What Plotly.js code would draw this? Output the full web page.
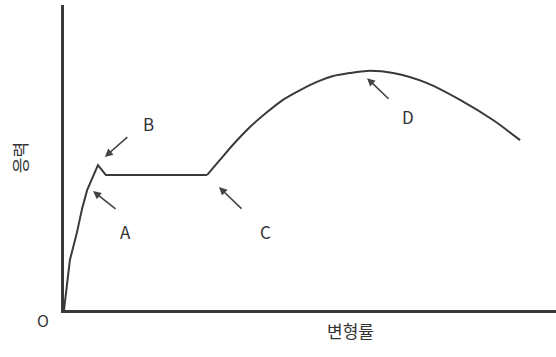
<!DOCTYPE html>
<html><head><meta charset="utf-8">
<script src="https://cdn.plot.ly/plotly-3.0.1.min.js"></script>
<style>html,body{margin:0;padding:0;background:#fff}</style>
</head><body><div id="chart" style="width:556px;height:357px"></div>
<script>
// stress-strain curve (arbitrary units)
// elastic region + yield point + yield plateau (O -> A -> B -> C)
const strainElastic = [0, 1.2, 2.6, 3.7, 4.7, 5.7, 6.9, 8.5, 29.1];
const stressElastic = [0, 16.4, 25.2, 33.4, 39.3, 43.3, 47.5, 44.3, 44.3];
// strain hardening + necking (C -> D -> fracture)
const strainHardening = [29.1, 31.7, 34.3, 37.8, 41.3, 44.5, 48.0, 51.4, 54.7, 58.1, 61.6, 66.9, 73.8, 80.5, 87.2, 92.7];
const stressHardening = [44.3, 49.2, 54.1, 60.0, 64.9, 68.9, 72.1, 74.8, 76.7, 77.7, 78.4, 77.7, 74.4, 68.9, 62.3, 55.7];
const pointLabels = ["A", "B", "C", "D"];
const labelX = [12.4, 17.1, 40.9, 69.9];
const labelY = [25.6, 61.0, 25.6, 63.3];
const arrowX = [5.9, 8.3, 31.5, 61.6];
const arrowY = [39.0, 50.2, 40.3, 76.0];
const arrowAX = [24, 24, 24, 23];
const arrowAY = [19, -21, 23, 22];
const xTitle = "변형률";
const yTitle = "응력";
const originLabel = "O";

const font = "'Noto Sans CJK KR', 'Noto Sans', sans-serif";
const plotW = 556 - 64, plotH = 310 - 5;
const annotations = [];
pointLabels.forEach((t, i) => {
  annotations.push({x: labelX[i], y: labelY[i], xref: 'x', yref: 'y', text: t, showarrow: false,
    font: {family: font, size: 17, color: '#333'}});
  annotations.push({x: arrowX[i], y: arrowY[i], xref: 'x', yref: 'y', text: '', showarrow: true,
    ax: arrowAX[i], ay: arrowAY[i], arrowhead: 2, arrowsize: 1, arrowwidth: 1.6, arrowcolor: '#444'});
});
annotations.push({x: (350 - 64) / plotW, y: (310 - 330) / plotH, xref: 'paper', yref: 'paper',
  xanchor: 'center', yanchor: 'middle',
  text: xTitle, showarrow: false, font: {family: font, size: 17, color: '#333'}});
annotations.push({x: (43 - 64) / plotW, y: (310 - 320) / plotH, xref: 'paper', yref: 'paper',
  xanchor: 'center', yanchor: 'middle',
  text: originLabel, showarrow: false, font: {family: font, size: 16, color: '#333'}});

Plotly.newPlot('chart', [{
  x: strainElastic, y: stressElastic, type: 'scatter', mode: 'lines',
  line: {color: '#3a3a3a', width: 2}, hoverinfo: 'skip'
}, {
  x: strainHardening, y: stressHardening, type: 'scatter', mode: 'lines',
  line: {color: '#3a3a3a', width: 2, shape: 'spline', smoothing: 0.8}, hoverinfo: 'skip'
}], {
  width: 556, height: 357,
  margin: {l: 64, r: 0, t: 5, b: 47},
  paper_bgcolor: '#fff', plot_bgcolor: '#fff',
  showlegend: false,
  xaxis: {range: [0, 100], showline: true, linewidth: 3, linecolor: '#3a3a3a', showgrid: false,
    zeroline: false, showticklabels: false, ticks: ''},
  yaxis: {range: [0, 100], showline: true, linewidth: 3, linecolor: '#3a3a3a', showgrid: false,
    zeroline: false, showticklabels: false, ticks: '',
    title: {text: yTitle, standoff: 30, font: {family: font, size: 17, color: '#333'}}},
  annotations: annotations
}, {staticPlot: true});
</script></body></html>
